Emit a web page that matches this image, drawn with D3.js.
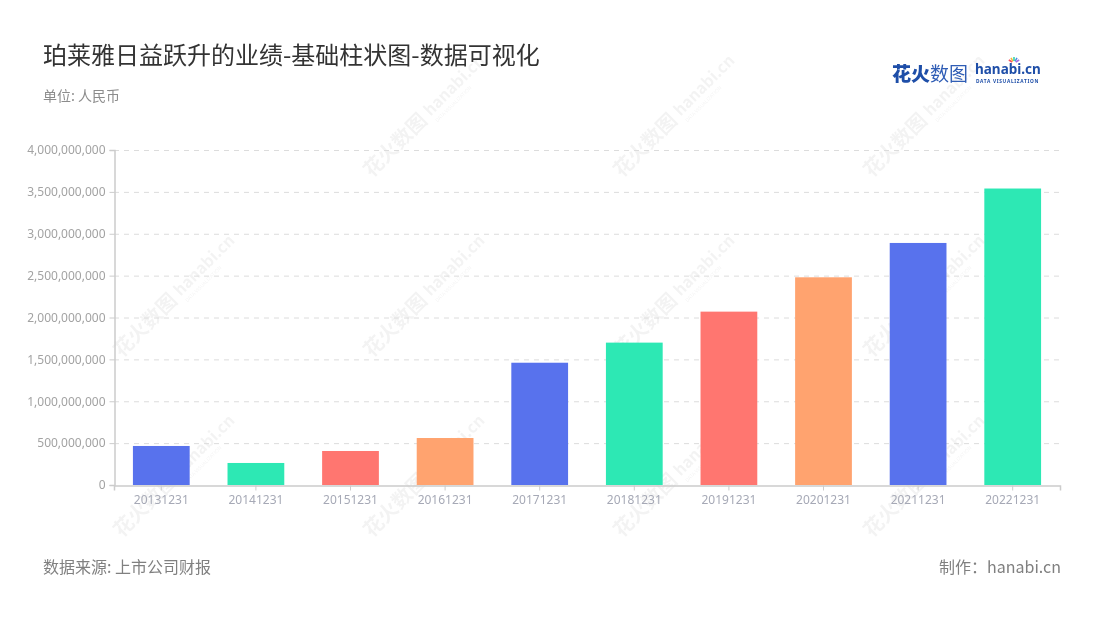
<!DOCTYPE html>
<html><head><meta charset="utf-8">
<script src="https://cdn.jsdelivr.net/npm/d3@7"></script>
<style>
html,body{margin:0;padding:0;background:#fff;}
svg{display:block;font-family:"Noto Sans CJK SC","Noto Sans",sans-serif;}
</style></head>
<body><svg id="c" width="1100" height="620"></svg>
<script>
const categories = ["20131231","20141231","20151231","20161231","20171231","20181231","20191231","20201231","20211231","20221231"];
const values = [466000000, 263000000, 406000000, 561000000, 1460000000, 1700000000, 2070000000, 2480000000, 2890000000, 3540000000];
const yTicks = [0, 500000000, 1000000000, 1500000000, 2000000000, 2500000000, 3000000000, 3500000000, 4000000000];
const palette = ["#5872ED", "#2DE8B4", "#FF7670", "#FFA36F"];
const titleText = "珀莱雅日益跃升的业绩-基础柱状图-数据可视化";
const unitText = "单位: 人民币";
const sourceText = "数据来源: 上市公司财报";
const creditText = "制作：hanabi.cn";

const svg = d3.select("#c");
const margin = {left:114, right:1060, top:150, bottom:485};

// watermarks
const wm = svg.append("g").attr("fill","#000").attr("opacity",0.05);
const wmPos = [[150,330],[400,150],[650,150],[900,150],[400,330],[650,330],[900,330],[150,510],[400,510],[650,510],[900,510]];
wmPos.forEach(([x,y])=>{
  const g = wm.append("g").attr("transform",`translate(${x},${y}) rotate(-45)`);
  g.append("text").attr("x",-40).attr("y",0).attr("font-size",20).attr("font-weight",700).text("花火数图");
  g.append("text").attr("x",45).attr("y",-2).attr("font-size",16).attr("font-weight",700).text("hanabi.cn");
  g.append("text").attr("x",46).attr("y",7).attr("font-size",5).text("DATA VISUALIZATION");
});

const x = d3.scaleBand().domain(categories).range([margin.left, margin.right]).paddingInner(0.4).paddingOuter(0.2);
const xs = d3.scaleBand().domain(categories).range([margin.left, margin.right]);
const y = d3.scaleLinear().domain([0, 4000000000]).range([margin.bottom, margin.top]);

// grid
svg.append("g").selectAll("line").data(yTicks.filter(d=>d>0)).join("line")
  .attr("x1", margin.left).attr("x2", margin.right)
  .attr("y1", d=>y(d)+0.5).attr("y2", d=>y(d)+0.5)
  .attr("stroke","#dcdcdc").attr("stroke-dasharray","5,5");

// y axis
const fmt = d3.format(",");
const yAxis = svg.append("g").attr("transform",`translate(${margin.left+0.5},0)`)
  .call(d3.axisLeft(y).tickValues(yTicks).tickFormat(fmt).tickSize(5).tickPadding(4));
yAxis.select(".domain").attr("stroke","#cccccc").attr("stroke-width",1.5);
yAxis.selectAll(".tick line").attr("stroke","#cccccc");
yAxis.selectAll("text").attr("fill","#a3a3a3").attr("font-size",12).attr("font-family","'Noto Sans',sans-serif");

// bars
svg.append("g").selectAll("rect").data(values).join("rect")
  .attr("x",(d,i)=>x(categories[i]))
  .attr("width", x.bandwidth())
  .attr("y", d=>y(d))
  .attr("height", d=>y(0)-y(d))
  .attr("fill",(d,i)=>palette[i%4]);

// x axis
const xAxis = svg.append("g").attr("transform",`translate(0,${margin.bottom+0.5})`)
  .call(d3.axisBottom(xs).tickSize(5).tickPadding(5));
xAxis.select(".domain").attr("stroke","#cccccc").attr("stroke-width",1.5);
xAxis.selectAll(".tick line").attr("stroke","#cccccc");
xAxis.selectAll("text").attr("fill","#a6a9b6").attr("font-size",12).attr("font-family","'Noto Sans',sans-serif");

// titles
svg.append("text").attr("x",43).attr("y",64).attr("font-size",24).attr("fill","#333").text(titleText);
svg.append("text").attr("x",43).attr("y",101).attr("font-size",14).attr("fill","#8c8c8c").text(unitText);
svg.append("text").attr("x",43).attr("y",573).attr("font-size",16).attr("fill","#808080").text(sourceText);
svg.append("text").attr("x",1061).attr("y",573).attr("text-anchor","end").attr("font-size",16).attr("fill","#808080").text(creditText);

// logo
const logo = svg.append("g");
logo.append("text").attr("x",892).attr("y",81).attr("font-size",19).attr("font-weight",900).attr("fill","#1e4ea8").text("花火");
logo.append("text").attr("x",930).attr("y",81).attr("font-size",19).attr("fill","#2f5db5").text("数图");
logo.append("text").attr("x",975).attr("y",74).attr("font-size",13.5).attr("font-weight",700).attr("fill","#1e4ea8").attr("font-family","'Noto Sans',sans-serif").text("hanabi.cn");
logo.append("text").attr("x",976).attr("y",83).attr("font-size",4.8).attr("font-weight",700).attr("fill","#1e4ea8").attr("letter-spacing",0.7).attr("font-family","'Noto Sans',sans-serif").text("DATA VISUALIZATION");
const sparks = ["#f5515f","#f7b733","#2ad0a4","#4a90e2","#a86de0"];
sparks.forEach((c,i)=>{
  const a = -150 + i*30;
  const r = a*Math.PI/180;
  logo.append("line").attr("x1",1014+Math.cos(r)*2).attr("y1",63+Math.sin(r)*2)
    .attr("x2",1014+Math.cos(r)*6).attr("y2",63+Math.sin(r)*6)
    .attr("stroke",c).attr("stroke-width",1.5);
});
</script></body></html>
